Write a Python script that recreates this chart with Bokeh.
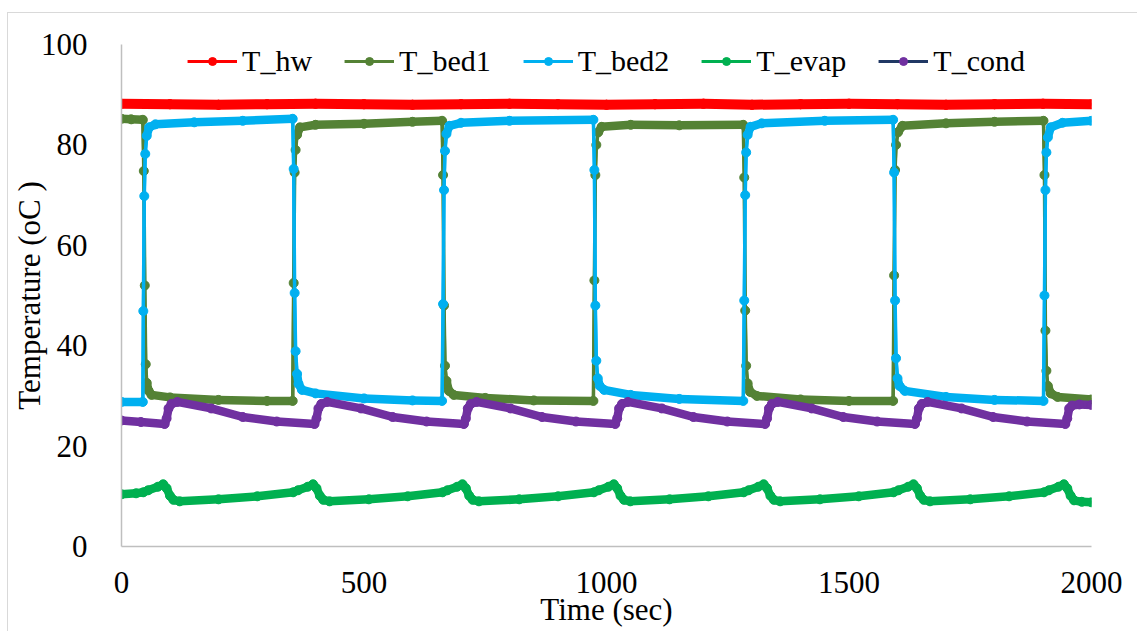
import numpy as np
from bokeh.plotting import figure
from bokeh.models import Range1d, Legend, LegendItem, ColumnDataSource, FixedTicker
from bokeh.embed import file_html
from bokeh.resources import INLINE

# ---------------- data ----------------
series_names = ["T_hw", "T_bed1", "T_bed2", "T_evap", "T_cond"]

hw_t = [0, 100, 200, 300, 400, 500, 600, 700, 800, 900, 1000,
        1100, 1200, 1300, 1400, 1500, 1600, 1700, 1800, 1900, 2000]
hw_y = [88.2, 88.1, 88.0, 88.1, 88.2, 88.1, 88.0, 88.1, 88.2, 88.1, 88.0,
        88.1, 88.2, 88.0, 88.1, 88.2, 88.1, 88.0, 88.1, 88.2, 88.1]

bed1_t = [0, 20, 44, 46, 48, 50, 52, 56, 62, 100, 200, 300, 353,
          355, 357, 359, 362, 368, 400, 500, 600, 661,
          663, 665, 667, 670, 675, 685, 750, 850, 973,
          975, 977, 979, 983, 990, 1050, 1150, 1282,
          1284, 1286, 1288, 1291, 1296, 1310, 1400, 1500, 1591,
          1593, 1595, 1597, 1601, 1610, 1700, 1800, 1901,
          1903, 1905, 1907, 1910, 1916, 1930, 2000]
bed1_y = [85.2, 85.1, 85.0, 74.8, 52.0, 36.3, 32.6, 31.0, 30.2, 29.7, 29.2, 29.0, 29.0,
          52.5, 74.5, 79.0, 82.0, 83.5, 84.0, 84.2, 84.6, 84.8,
          74.0, 48.0, 36.0, 33.0, 31.0, 30.2, 29.6, 29.1, 29.0,
          53.0, 74.0, 80.0, 82.5, 83.6, 84.0, 83.9, 84.0,
          73.5, 47.0, 36.0, 32.5, 30.8, 30.0, 29.3, 29.0, 29.0,
          54.0, 75.0, 80.0, 82.5, 83.8, 84.3, 84.6, 84.8,
          74.0, 43.0, 35.0, 32.0, 30.5, 29.8, 29.3]

bed2_t = [0, 44, 45, 47, 49, 52, 57, 70, 150, 250, 353,
          355, 357, 359, 362, 365, 372, 400, 500, 600, 661,
          663, 665, 667, 670, 676, 700, 800, 973,
          975, 977, 979, 982, 986, 995, 1050, 1150, 1282,
          1284, 1286, 1288, 1291, 1297, 1320, 1450, 1591,
          1593, 1595, 1597, 1600, 1604, 1615, 1700, 1800, 1901,
          1903, 1905, 1907, 1910, 1916, 1940, 2000]
bed2_y = [28.8, 28.8, 46.9, 69.8, 78.2, 81.8, 83.5, 84.1, 84.5, 84.8, 85.2,
          75.2, 50.5, 38.9, 34.4, 32.4, 31.2, 30.5, 29.5, 29.1, 29.0,
          48.3, 71.0, 78.8, 82.2, 83.8, 84.4, 84.8, 85.0,
          75.0, 48.0, 37.0, 33.5, 32.0, 31.2, 30.2, 29.4, 29.0,
          49.0, 70.0, 78.5, 82.0, 83.6, 84.3, 84.8, 85.0,
          74.5, 49.0, 37.5, 33.5, 32.0, 31.0, 29.8, 29.2, 29.0,
          50.0, 71.0, 78.5, 81.5, 83.5, 84.4, 84.8]

evap_t = [0, 30, 45, 55, 75, 86, 93, 100, 107, 120, 200, 280, 354,
          364, 384, 395, 402, 409, 416, 429, 510, 590, 662,
          672, 692, 703, 710, 717, 724, 737, 820, 900, 974,
          984, 1004, 1015, 1022, 1029, 1036, 1049, 1130, 1210, 1283,
          1293, 1313, 1324, 1331, 1338, 1345, 1358, 1440, 1520, 1592,
          1602, 1622, 1633, 1640, 1647, 1654, 1667, 1750, 1830, 1902,
          1912, 1932, 1943, 1950, 1957, 1964, 1980, 2000]
evap_y = [10.4, 10.6, 10.8, 11.2, 11.9, 12.4, 11.6, 10.1, 9.3, 9.0, 9.4, 10.0, 10.8,
          11.2, 11.9, 12.4, 11.6, 10.1, 9.3, 9.0, 9.4, 10.0, 10.8,
          11.2, 11.9, 12.4, 11.6, 10.1, 9.3, 9.0, 9.4, 10.0, 10.8,
          11.2, 11.9, 12.4, 11.6, 10.1, 9.3, 9.0, 9.4, 10.0, 10.8,
          11.2, 11.9, 12.4, 11.6, 10.1, 9.3, 9.0, 9.4, 10.0, 10.8,
          11.2, 11.9, 12.4, 11.6, 10.1, 9.3, 9.0, 9.4, 10.0, 10.8,
          11.2, 11.9, 12.4, 11.6, 10.1, 9.2, 8.9, 8.8]

cond_t = [0, 40, 89, 93, 97, 103, 115, 185, 250, 320, 398,
          402, 406, 412, 424, 494, 559, 629, 706,
          710, 714, 720, 732, 802, 867, 937, 1018,
          1022, 1026, 1032, 1044, 1114, 1179, 1249, 1327,
          1331, 1335, 1341, 1353, 1423, 1488, 1558, 1636,
          1640, 1644, 1650, 1662, 1732, 1797, 1867, 1946,
          1950, 1954, 1960, 1975, 2000]
cond_y = [25.1, 24.8, 24.4, 25.5, 27.5, 28.4, 28.8, 27.5, 25.8, 24.9, 24.4,
          25.5, 27.5, 28.4, 28.8, 27.5, 25.8, 24.9, 24.4,
          25.5, 27.5, 28.4, 28.8, 27.5, 25.8, 24.9, 24.4,
          25.5, 27.5, 28.4, 28.8, 27.5, 25.8, 24.9, 24.4,
          25.5, 27.5, 28.4, 28.8, 27.5, 25.8, 24.9, 24.4,
          25.5, 27.5, 28.4, 28.8, 27.5, 25.8, 24.9, 24.4,
          25.5, 27.5, 28.1, 28.3, 28.2]

x_ticks = [0, 500, 1000, 1500, 2000]
y_ticks = [0, 20, 40, 60, 80, 100]

line_colors = ["#FF0000", "#548235", "#00B0F0", "#00B050", "#203864"]
marker_colors = ["#FF0000", "#548235", "#00B0F0", "#00B050", "#7030A0"]

FONT = "Liberation Serif"

# ---------------- figure ----------------
p = figure(width=1130, height=619, output_backend="svg", toolbar_location=None,
           x_range=Range1d(0, 2000), y_range=Range1d(0, 100),
           min_border_left=112, min_border_right=47,
           min_border_top=31, min_border_bottom=86)
# light chart-area border along the top and left edges, as in the reference
p.styles = {"border-top": "1px solid #D9D9D9", "border-left": "1px solid #D9D9D9",
            "margin-top": "12px", "margin-left": "7px"}
p.grid.visible = False
p.outline_line_color = None
p.background_fill_color = "white"
p.border_fill_color = "white"

for ax in (p.xaxis[0], p.yaxis[0]):
    ax.axis_line_color = "#BFBFBF"
    ax.axis_line_width = 1.5
    ax.major_tick_line_color = None
    ax.minor_tick_line_color = None
    ax.major_label_text_font = FONT
    ax.major_label_text_font_size = "31px"
    ax.major_label_text_color = "black"
    ax.axis_label_text_font = FONT
    ax.axis_label_text_font_size = "31px"
    ax.axis_label_text_font_style = "normal"
    ax.axis_label_text_color = "black"

p.xaxis.ticker = FixedTicker(ticks=x_ticks)
p.yaxis.ticker = FixedTicker(ticks=y_ticks)
p.xaxis.axis_label = "Time (sec)"
p.yaxis.axis_label = "Temperature (oC )"
p.xaxis.major_label_standoff = 19
p.xaxis.axis_label_standoff = -4
p.yaxis.major_label_standoff = 28
p.yaxis.axis_label_standoff = -9

all_t = [hw_t, bed1_t, bed2_t, evap_t, cond_t]
all_y = [hw_y, bed1_y, bed2_y, evap_y, cond_y]
thick = [10, 8.5, 8.5, 8.5, 8.5]

items = []
for name, t, y, lc, mc, tw in zip(series_names, all_t, all_y, line_colors, marker_colors, thick):
    t = np.asarray(t, dtype=float)
    y = np.asarray(y, dtype=float)
    # series line (Excel line colour), drawn first
    r_line = p.line(t, y, line_color=lc, line_width=3)
    # dense markers make the plateaus look thick: thick where the curve is flat
    dy = np.abs(np.diff(y))
    w = np.where(dy < 2.5, tw, 3.5)
    src = ColumnDataSource(dict(x0=t[:-1], y0=y[:-1], x1=t[1:], y1=y[1:], w=w))
    p.segment("x0", "y0", "x1", "y1", source=src, line_color=mc,
              line_width="w", line_cap="round", line_join="round")
    r_mark = p.scatter(t, y, marker="circle", size=9, fill_color=mc, line_color=mc)
    items.append(LegendItem(label=name, renderers=[r_line, r_mark]))

legend = Legend(items=items, location="top_center", orientation="horizontal",
                background_fill_alpha=0, border_line_color=None,
                label_text_font=FONT, label_text_font_size="30px",
                label_text_color="black",
                glyph_width=50, glyph_height=20, label_standoff=5,
                spacing=32, padding=0, margin=0)
p.add_layout(legend)

open("out.html", "w").write(file_html(p, INLINE))
